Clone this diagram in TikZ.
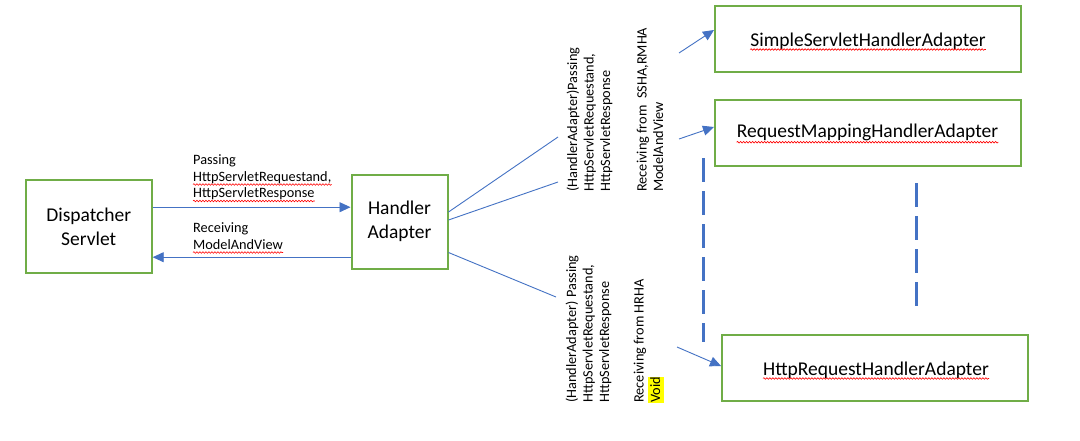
\documentclass[tikz,border=0pt]{standalone}
\usepackage{fontspec}
\setmainfont{Carlito}
\usetikzlibrary{arrows.meta,decorations.pathmorphing,calc}
\definecolor{lblue}{HTML}{4472C4}
\definecolor{lgreen}{HTML}{70AD47}
\definecolor{hl}{HTML}{FFFF00}
\begin{document}
\begin{tikzpicture}[x=1pt,y=-1pt,
 box/.style={draw=lgreen, line width=2pt, inner sep=0pt, font=\fontsize{19.5}{24}\selectfont, align=center},
 big/.style={inner sep=0pt, font=\fontsize{19.5}{24}\selectfont},
 small/.style={inner sep=0pt, font=\fontsize{14.3}{16.5}\selectfont},
 rot/.style={small, rotate=90, anchor=north west, align=left},
 conn/.style={draw=lblue, line width=0.9pt},
 arr/.style={conn, -{Triangle[length=11pt,width=10pt]}},
 dashline/.style={draw=lblue, line width=3pt, dash pattern=on 24pt off 9pt},
 squig/.style={draw=red, line width=0.6pt, decorate, decoration={snake, segment length=3pt, amplitude=0.8pt}},
]
\fill[white] (0,0) rectangle (1080,440);
\useasboundingbox (0,0) rectangle (1080,440);

% boxes
\node[box, minimum width=126pt, minimum height=93pt] (ds) at (88.7,226.7) {Dispatcher\\Servlet};
\node[box, minimum width=96pt, minimum height=94pt] (ha) at (399.5,221.5) {Handler\\Adapter};
\node[box, minimum width=306pt, minimum height=66pt] (ssha) at (868,39) {};
\node[box, minimum width=306pt, minimum height=66pt] (rmha) at (868,133) {};
\node[box, minimum width=306pt, minimum height=66pt] (hrha) at (875,368) {};

% box texts
\node[big, anchor=base] (sshaT) at (868,46) {SimpleServletHandlerAdapter};
\node[big, anchor=base] (rmhaT) at (867.5,137.7) {RequestMappingHandlerAdapter};
\node[big, anchor=base] (hrhaT) at (876,375) {HttpRequestHandlerAdapter};
\draw[squig] ([yshift=-3.5pt]sshaT.base west) -- ([yshift=-3.5pt]sshaT.base east);
\draw[squig] ([yshift=-4.5pt]rmhaT.base west) -- ([yshift=-4.5pt]rmhaT.base east);
\draw[squig] ([yshift=-3.5pt]hrhaT.base west) -- ([yshift=-3.5pt]hrhaT.base east);

% left labels
\node[small, anchor=base west] (p1) at (193,164) {Passing};
\node[small, anchor=base west] (p2) at (193,181) {HttpServletRequestand,};
\node[small, anchor=base west] (p3) at (193,197.5) {HttpServletResponse};
\node[small, anchor=base west] (r1) at (193,232.7) {Receiving};
\node[small, anchor=base west] (r2) at (193,249) {ModelAndView};
\draw[squig] ([yshift=-3.5pt]p2.base west) -- ([yshift=-3.5pt]p2.base east);
\draw[squig] ([yshift=-3.5pt]p3.base west) -- ([yshift=-3.5pt]p3.base east);
\draw[squig] ([yshift=-3.5pt]r2.base west) -- ([yshift=-3.5pt]r2.base east);

% rotated labels
\node[rot] (la) at (566.5,192) {(HandlerAdapter)Passing\\HttpServletRequestand,\\HttpServletResponse};
\node[rot] (lb) at (636.5,192) {Receiving from\ \ SSHA,RMHA\\ModelAndView};
\node[rot] (lc) at (565.5,403) {(HandlerAdapter) Passing\\HttpServletRequestand,\\HttpServletResponse};
\node[rot] (ld) at (633.5,403) {Receiving from HRHA\\{\setlength{\fboxsep}{0pt}\colorbox{hl}{\rule[-4pt]{0pt}{16.5pt}Void}}};

% connectors left
\coordinate (a1) at ([yshift=19.5pt]ds.east);
\coordinate (a2) at ([yshift=-30.5pt]ds.east);
\draw[arr] (a1) -- (a1 -| ha.west);
\draw[arr] (a2 -| ha.west) -- (a2);

% lines from handler adapter
\coordinate (e1) at (558,137);
\coordinate (e2) at (558,182);
\coordinate (e3) at (556,297);
\draw[conn] ([yshift=9.5pt]ha.east) -- (e1);
\draw[conn] ([yshift=1.5pt]ha.east) -- (e2);
\draw[conn] ([yshift=-31pt]ha.east) -- (e3);

% arrows to adapters
\coordinate (s1) at (679,53);
\coordinate (s2) at (679,139);
\coordinate (s3) at (677,347);
\draw[arr] (s1) -- ([yshift=9pt]ssha.west);
\draw[arr] (s2) -- ([yshift=6pt]rmha.west);
\draw[arr] (s3) -- ([yshift=2pt]hrha.west);

% dashed lines
\coordinate (d1) at (703,158);
\coordinate (d2) at (703,342);
\coordinate (d3) at (916,183);
\coordinate (d4) at (916,306);
\draw[dashline] (d1) -- (d2);
\draw[dashline] (d3) -- (d4);
\end{tikzpicture}
\end{document}
